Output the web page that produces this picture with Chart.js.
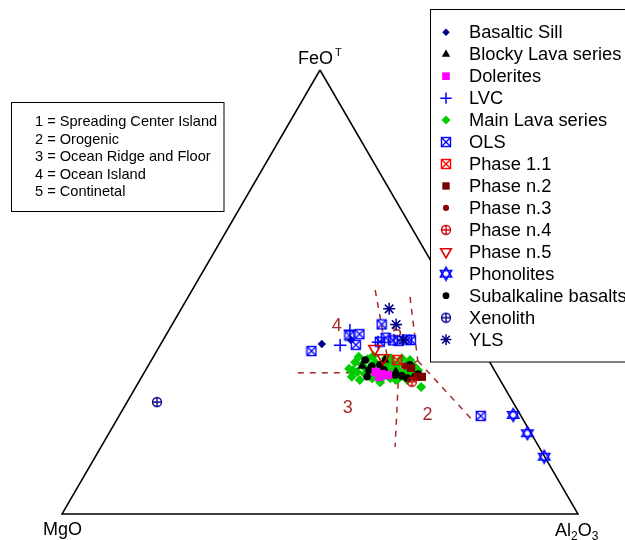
<!DOCTYPE html>
<html><head><meta charset="utf-8">
<script src="https://cdn.jsdelivr.net/npm/chart.js@4"></script>
<style>html,body{margin:0;padding:0;background:#fff;}canvas{display:block;}</style>
</head><body>
<canvas id="c" width="625" height="540"></canvas>
<script>
// ---- Data: ternary compositions [FeO(T), MgO, Al2O3] in % ----
const basalticSill = [[38.3,30.5,31.2],[39.2,24.4,36.4]];
const blockyLava = [[34.7,20.1,45.2],[32.0,19.3,48.7],[33.3,25.2,41.5]];
const dolerites = [[32.0,23.2,44.8],[31.5,22.3,46.2],[31.3,21.2,47.5],[30.9,23.1,46.0]];
const lvc = [[38.0,27.1,34.9],[41.4,23.5,35.1],[38.7,19.4,41.9]];
const mainLava = [[32.7,28.0,39.3],[30.9,28.4,40.7],[34.2,26.1,39.7],[32.0,26.8,41.2],[30.2,27.2,42.6],
  [33.6,25.1,41.3],[31.5,25.5,43.0],[34.9,23.3,41.8],[32.9,23.9,43.2],[30.6,24.6,44.8],
  [34.2,22.2,43.6],[32.4,22.6,45.0],[29.7,23.5,46.8],[33.3,21.1,45.6],[35.1,19.7,45.2],
  [32.2,20.7,47.1],[30.6,21.1,48.3],[34.2,19.0,46.8],[32.7,19.3,48.0],[30.2,20.2,49.6],
  [33.6,18.1,48.3],[32.0,18.5,49.5],[35.1,16.6,48.3],[31.1,18.2,50.7],[33.8,16.4,49.8],
  [32.4,16.8,50.8],[34.7,15.2,50.1],[31.5,16.4,52.1],[33.3,15.1,51.6],[32.4,14.8,52.8],
  [28.6,16.1,55.3],[35.1,18.7,46.2],[35.4,24.8,39.8],[32.4,27.4,40.2],[31.1,22.1,46.8],
  [30.6,19.4,50.0],[30.2,18.0,51.8],[35.6,21.9,42.5],[32.7,24.8,42.5],[33.8,19.9,46.3]];
const ols = [[36.7,33.3,30.0],[40.2,24.2,35.6],[40.5,22.1,37.4],[38.1,24.0,37.9],[42.7,16.7,40.6],
  [39.7,17.4,42.9],[38.8,19.0,42.2],[39.1,16.3,44.6],[39.0,15.3,45.7],[39.3,13.5,47.2],
  [39.2,12.8,48.0],[22.1,7.8,70.1]];
const phase11 = [[34.7,17.7,47.6]];
const phaseN2 = [[30.9,15.8,53.3],[30.9,14.8,54.3],[32.9,15.9,51.2]];
const phaseN3 = [[33.3,16.9,49.8]];
const phaseN4 = [[29.8,17.3,52.9]];
const phaseN5 = [[37.2,20.8,42.0],[35.1,20.2,44.7]];
const phonolites = [[22.3,1.4,76.3],[18.2,0.7,81.1],[12.9,0.1,87.0]];
const subalkaline = [[34.7,23.9,41.4],[32.4,24.3,43.3],[30.9,25.4,43.7],[33.6,21.6,44.8],[32.4,21.4,46.2],
  [31.3,19.8,48.9],[31.1,18.6,50.3],[33.6,15.8,50.6],[30.6,17.8,51.6],[30.9,16.2,52.9],
  [33.3,23.3,43.4],[31.5,15.2,53.3]];
const xenolith = [[25.2,69.0,5.8]];
const yls = [[46.2,13.5,40.3],[42.7,13.9,43.4],[39.2,14.3,46.5]];

const seriesNames = ['Basaltic Sill','Blocky Lava series','Dolerites','LVC','Main Lava series','OLS',
  'Phase 1.1','Phase n.2','Phase n.3','Phase n.4','Phase n.5','Phonolites','Subalkaline basalts','Xenolith','YLS'];

// Triangle frame and tectonic-field boundaries (Pearce et al. 1977)
const frame = [[100,0,0],[0,100,0],[0,0,100],[100,0,0]];
const boundA = [[31.8,38.4,29.8],[31.8,20.5,47.7]];
const boundB = [[50.4,14.1,35.5],[31.8,20.5,47.7]];
const boundE = [[31.8,20.5,47.7],[34.5,13.8,51.7]];
const boundC1 = [[48.9,8.1,43.0],[34.5,13.8,51.7]];
const boundC2 = [[34.5,13.8,51.7],[21.2,9.9,68.9]];
const boundD = [[32.2,19.2,48.6],[29.3,20.2,50.5],[15.1,27.9,57.0]];
const regionLabels = ['4','5','3','2'];
const regionLabelPos = [[42.3,25.6,32.1],[41.0,14.6,44.4],[23.8,32.7,43.5],[22.3,18.0,59.7]];
const regionNames = ['1 = Spreading Center Island','2 = Orogenic','3 = Ocean Ridge and Floor','4 = Ocean Island','5 = Continetal'];

// ---- helpers ----
const H = Math.sqrt(3)/2;
function toXY(p){ const s=p[0]+p[1]+p[2]; return {x:(p[2]+p[0]/2)/s, y:(p[0]/s)*H}; }
function sym(size, fn){ const c=document.createElement('canvas'); c.width=size; c.height=size; fn(c.getContext('2d'), size/2); return c; }
const boxX = col => sym(12,(g)=>{ g.strokeStyle=col; g.lineWidth=1.4; g.strokeRect(1.5,1.5,9,9);
  g.beginPath(); g.moveTo(1.5,1.5); g.lineTo(10.5,10.5); g.moveTo(10.5,1.5); g.lineTo(1.5,10.5); g.stroke(); });
const circPlus = col => sym(12,(g)=>{ g.strokeStyle=col; g.lineWidth=1.3; g.beginPath(); g.arc(6,6,4.5,0,Math.PI*2);
  g.moveTo(6,1.5); g.lineTo(6,10.5); g.moveTo(1.5,6); g.lineTo(10.5,6); g.stroke(); });
const david = col => sym(16,(g,c)=>{ g.strokeStyle=col; g.lineWidth=1.6; const r=6.4;
  for (const a0 of [-90,90]) { g.beginPath(); for (let k=0;k<3;k++){ const a=(a0+k*120)*Math.PI/180; const px=c+r*Math.cos(a), py=c+r*Math.sin(a); k?g.lineTo(px,py):g.moveTo(px,py);} g.closePath(); g.stroke(); } });

const NAVY='#00008B', BLUE='#0000FF', BROWN='#A52A2A';
const styles = [
  {data:basalticSill, pointStyle:'rectRot', pointRadius:4.2, backgroundColor:NAVY, borderColor:NAVY, borderWidth:0, order:9},
  {data:blockyLava, pointStyle:'triangle', pointRadius:5.4, backgroundColor:'#000', borderColor:'#000', borderWidth:0, order:6},
  {data:dolerites, pointStyle:'rect', pointRadius:6, backgroundColor:'#FF00FF', borderColor:'#FF00FF', borderWidth:0, order:4},
  {data:lvc, pointStyle:'cross', pointRadius:6.3, backgroundColor:'transparent', borderColor:BLUE, borderWidth:1.5, order:8},
  {data:mainLava, pointStyle:'rectRot', pointRadius:5, backgroundColor:'#00CD00', borderColor:'#00CD00', borderWidth:0, order:12},
  {data:ols, pointStyle:boxX(BLUE), pointRadius:5, backgroundColor:'transparent', borderColor:BLUE, borderWidth:1, order:7},
  {data:phase11, pointStyle:boxX('#FF0000'), pointRadius:5, backgroundColor:'transparent', borderColor:'#FF0000', borderWidth:1, order:5},
  {data:phaseN2, pointStyle:'rect', pointRadius:5.8, backgroundColor:'#7A0000', borderColor:'#7A0000', borderWidth:0, order:5},
  {data:phaseN3, pointStyle:'circle', pointRadius:3.4, backgroundColor:'#8B0000', borderColor:'#8B0000', borderWidth:0, order:5},
  {data:phaseN4, pointStyle:circPlus('#CD0000'), pointRadius:5, backgroundColor:'transparent', borderColor:'#CD0000', borderWidth:1, order:3},
  {data:phaseN5, pointStyle:'triangle', pointRotation:180, pointRadius:6.8, backgroundColor:'transparent', borderColor:'#E00000', borderWidth:1.6, order:3},
  {data:phonolites, pointStyle:david(BLUE), pointRadius:6, backgroundColor:'transparent', borderColor:BLUE, borderWidth:1, order:3},
  {data:subalkaline, pointStyle:'circle', pointRadius:3.8, backgroundColor:'#000', borderColor:'#000', borderWidth:0, order:10},
  {data:xenolith, pointStyle:circPlus(NAVY), pointRadius:5, backgroundColor:'transparent', borderColor:NAVY, borderWidth:1, order:3},
  {data:yls, pointStyle:'star', pointRadius:6, backgroundColor:'transparent', borderColor:NAVY, borderWidth:1.5, order:2}
];

const pointSets = styles.map((s,i)=>Object.assign({}, s, {label:seriesNames[i], data:s.data.map(toXY), clip:false, showLine:false}));
const lineDs = (arr, dash, col, w, ord) => ({label:'', data:arr.map(toXY), showLine:true, pointRadius:0, borderColor:col,
  borderWidth:w, borderDash:dash, fill:false, clip:false, order:ord, tension:0});
const lineSets = [boundA,boundB,boundE,boundC1,boundC2,boundD].map(b=>lineDs(b,[6,6],BROWN,1.5,50));
lineSets.push(lineDs(frame,[],'#000',1.5,60));

const FONT = '"Liberation Sans", Arial, Helvetica, sans-serif';
const overlay = {
  id:'overlay',
  beforeDatasetsDraw(chart){
    const ctx=chart.ctx, sx=chart.scales.x, sy=chart.scales.y;
    ctx.save(); ctx.fillStyle=BROWN; ctx.font='18px '+FONT; ctx.textAlign='center'; ctx.textBaseline='middle';
    regionLabels.forEach((t,i)=>{ const p=toXY(regionLabelPos[i]); ctx.fillText(t, sx.getPixelForValue(p.x), sy.getPixelForValue(p.y)); });
    ctx.restore();
  },
  afterDraw(chart){
    const ctx=chart.ctx;
    ctx.save();
    ctx.fillStyle='#000'; ctx.textBaseline='alphabetic'; ctx.textAlign='left';
    ctx.font='18px '+FONT;
    ctx.fillText('FeO', 298, 63.5);
    ctx.font='11px '+FONT; ctx.fillText('T', 335, 56);
    ctx.font='18px '+FONT; ctx.fillText('MgO', 43, 535);
    let x=555; ctx.fillText('Al', x, 536); x+=ctx.measureText('Al').width;
    ctx.font='12px '+FONT; ctx.fillText('2', x, 540); x+=ctx.measureText('2').width;
    ctx.font='18px '+FONT; ctx.fillText('O', x, 536); x+=ctx.measureText('O').width;
    ctx.font='12px '+FONT; ctx.fillText('3', x, 540);
    // region-name box
    ctx.fillStyle='#fff'; ctx.fillRect(11.5,102.5,212.5,109);
    ctx.strokeStyle='#000'; ctx.lineWidth=1; ctx.strokeRect(11.5,102.5,212.5,109);
    ctx.fillStyle='#000'; ctx.font='14.6px '+FONT; ctx.textBaseline='middle';
    regionNames.forEach((t,i)=>ctx.fillText(t, 35, 122+i*17.5));
    // legend
    ctx.fillStyle='#fff'; ctx.fillRect(430.5,9.5,300,352.5);
    ctx.strokeRect(430.5,9.5,300,352.5);
    ctx.font='18.3px '+FONT;
    styles.forEach((s,i)=>{
      const y=32.3+i*21.95;
      ctx.save();
      ctx.fillStyle=s.backgroundColor; ctx.strokeStyle=s.borderColor; ctx.lineWidth=s.borderWidth;
      const r = (typeof s.pointStyle==='string') ? s.pointRadius*0.9 : s.pointRadius;
      Chart.helpers.drawPoint(ctx,{pointStyle:s.pointStyle, rotation:s.pointRotation||0, radius:r, borderWidth:s.borderWidth}, 446, y);
      ctx.restore();
      ctx.fillStyle='#000'; ctx.fillText(seriesNames[i], 469, y+1);
    });
    ctx.restore();
  }
};

new Chart(document.getElementById('c'), {
  type:'scatter',
  data:{datasets:[...pointSets, ...lineSets]},
  options:{
    responsive:false, animation:false, events:[],
    layout:{padding:{left:62,right:47,top:70,bottom:26}},
    scales:{
      x:{type:'linear', min:0, max:1, display:false},
      y:{type:'linear', min:0, max:H, display:false}
    },
    plugins:{legend:{display:false}, tooltip:{enabled:false}, title:{display:false}}
  },
  plugins:[overlay]
});
</script>
</body></html>
